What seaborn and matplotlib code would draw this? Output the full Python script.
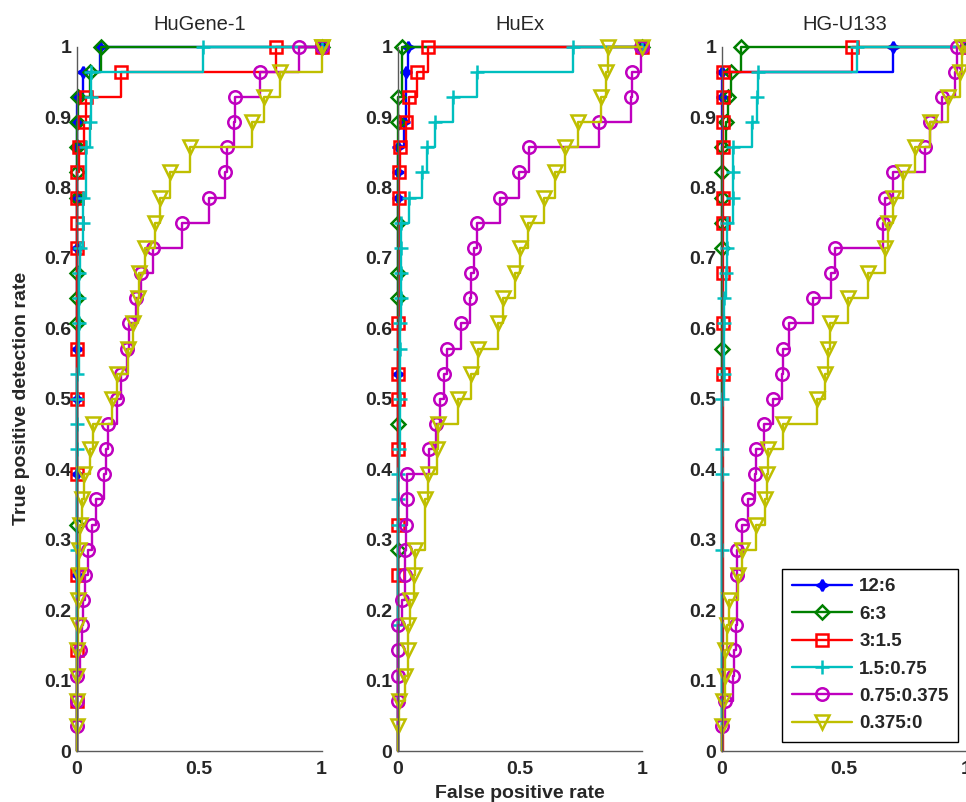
import matplotlib
matplotlib.use("Agg")
import matplotlib.pyplot as plt
import seaborn as sns
import pandas as pd

sns.set_theme(style="white")
plt.rcParams['font.family'] = ['Liberation Sans', 'DejaVu Sans']

# ---------------- data ----------------
panel_titles = ["HuGene-1", "HuEx", "HG-U133"]
series_labels = ["12:6", "6:3", "3:1.5", "1.5:0.75", "0.75:0.375", "0.375:0"]

# ---- HuGene-1 ----
hugene_12_6_tpr = [0, 0.25, 0.3929, 0.5, 0.5714, 0.7143, 0.7857, 0.8571, 0.8929, 0.9286, 0.9643, 1.0, 1.0]
hugene_12_6_fpr = [0, 0, 0, 0, 0, 0, 0, 0, 0, 0, 0.023, 0.095, 1]
hugene_6_3_tpr = [0, 0.3214, 0.6071, 0.6429, 0.6786, 0.7857, 0.8214, 0.8571, 0.8929, 0.9286, 0.9643, 1.0, 1.0]
hugene_6_3_fpr = [0, 0, 0, 0, 0, 0, 0, 0, 0, 0.004, 0.055, 0.097, 1]
hugene_3_1p5_tpr = [0, 0.0714, 0.1429, 0.25, 0.3929, 0.5, 0.5714, 0.7143, 0.75, 0.7857, 0.8214,
                    0.8571, 0.8929, 0.9286, 0.9643, 1.0, 1.0]
hugene_3_1p5_fpr = [0, 0, 0, 0, 0, 0, 0, 0, 0, 0, 0, 0.007, 0.03, 0.035, 0.178, 0.814, 1]
hugene_1p5_0p75_tpr = [0, 0.2857, 0.4286, 0.4643, 0.5, 0.5357, 0.6071, 0.6429, 0.6786, 0.7143, 0.75,
                       0.7857, 0.8571, 0.8929, 0.9286, 0.9643, 1.0, 1.0]
hugene_1p5_0p75_fpr = [0, 0, 0, 0, 0, 0, 0.007, 0.007, 0.01, 0.014, 0.023, 0.023, 0.037, 0.055,
                       0.059, 0.059, 0.515, 1]
hugene_0p75_0p375_tpr = [0, 0.0357, 0.0714, 0.1071, 0.1429, 0.1786, 0.2143, 0.25, 0.2857, 0.3214,
                         0.3571, 0.3929, 0.4286, 0.4643, 0.5, 0.5357, 0.5714, 0.6071, 0.6429,
                         0.6786, 0.7143, 0.75, 0.7857, 0.8214, 0.8571, 0.8929, 0.9286, 0.9643,
                         1.0, 1.0]
hugene_0p75_0p375_fpr = [0, 0, 0, 0, 0.012, 0.019, 0.023, 0.033, 0.046, 0.06, 0.077, 0.11, 0.117,
                         0.125, 0.165, 0.178, 0.205, 0.213, 0.24, 0.26, 0.31, 0.43, 0.54, 0.607,
                         0.612, 0.641, 0.648, 0.75, 0.91, 1]
hugene_0p375_0_tpr = [0, 0.0357, 0.0714, 0.1071, 0.1429, 0.1786, 0.2143, 0.25, 0.2857, 0.3214,
                      0.3571, 0.3929, 0.4286, 0.4643, 0.5, 0.5357, 0.5714, 0.6071, 0.6429,
                      0.6786, 0.7143, 0.75, 0.7857, 0.8214, 0.8571, 0.8929, 0.9286, 0.9643,
                      1.0, 1.0]
hugene_0p375_0_fpr = [0, 0, 0, 0, 0, 0.005, 0.006, 0.008, 0.01, 0.012, 0.022, 0.027, 0.053, 0.067,
                      0.142, 0.165, 0.207, 0.228, 0.25, 0.255, 0.28, 0.32, 0.34, 0.381, 0.463,
                      0.716, 0.764, 0.832, 1.0, 1]

# ---- HuEx ----
huex_12_6_tpr = [0, 0.5357, 0.7857, 0.8214, 0.8571, 0.8929, 0.9643, 1.0, 1.0]
huex_12_6_fpr = [0, 0, 0, 0, 0, 0.025, 0.034, 0.043, 1]
huex_6_3_tpr = [0, 0.2857, 0.4643, 0.6429, 0.6786, 0.75, 0.8929, 0.9286, 1.0, 1.0]
huex_6_3_fpr = [0, 0, 0, 0, 0, 0, 0, 0, 0.016, 1]
huex_3_1p5_tpr = [0, 0.25, 0.3214, 0.4286, 0.5, 0.5357, 0.6071, 0.7857, 0.8214, 0.8571, 0.8929,
                  0.9286, 0.9643, 1.0, 1.0]
huex_3_1p5_fpr = [0, 0, 0, 0, 0, 0, 0, 0.007, 0.007, 0.009, 0.034, 0.047, 0.08, 0.125, 1]
huex_1p5_0p75_tpr = [0, 0.1786, 0.3214, 0.3571, 0.3929, 0.4286, 0.5, 0.5714, 0.6071, 0.6429,
                     0.6786, 0.7143, 0.75, 0.7857, 0.8214, 0.8571, 0.8929, 0.9286, 0.9643,
                     1.0, 1.0]
huex_1p5_0p75_fpr = [0, 0, 0, 0, 0, 0.005, 0.008, 0.01, 0.01, 0.012, 0.012, 0.012, 0.012, 0.045,
                     0.1, 0.118, 0.154, 0.227, 0.325, 0.716, 1]
huex_0p75_0p375_tpr = [0, 0.0714, 0.1071, 0.1429, 0.1786, 0.2143, 0.25, 0.2857, 0.3214, 0.3571,
                       0.3929, 0.4286, 0.4643, 0.5, 0.5357, 0.5714, 0.6071, 0.6429, 0.6786,
                       0.7143, 0.75, 0.7857, 0.8214, 0.8571, 0.8929, 0.9286, 0.9643, 1.0, 1.0]
huex_0p75_0p375_fpr = [0, 0, 0, 0, 0.003, 0.016, 0.028, 0.03, 0.034, 0.037, 0.039, 0.129, 0.156,
                       0.175, 0.189, 0.2, 0.258, 0.295, 0.301, 0.311, 0.326, 0.417, 0.496, 0.535,
                       0.825, 0.956, 0.96, 0.995, 1]
huex_0p375_0_tpr = [0, 0.0357, 0.0714, 0.1071, 0.1429, 0.1786, 0.2143, 0.25, 0.2857, 0.3571,
                    0.3929, 0.4286, 0.4643, 0.5, 0.5357, 0.5714, 0.6071, 0.6429, 0.6786, 0.7143,
                    0.75, 0.7857, 0.8214, 0.8571, 0.8929, 0.9286, 0.9643, 1.0, 1.0]
huex_0p375_0_fpr = [0, 0, 0.007, 0.03, 0.043, 0.043, 0.05, 0.068, 0.07, 0.111, 0.125, 0.159,
                    0.166, 0.247, 0.301, 0.329, 0.41, 0.43, 0.478, 0.499, 0.532, 0.6, 0.644,
                    0.686, 0.736, 0.831, 0.852, 0.859, 1]

# ---- HG-U133 ----
hgu133_12_6_tpr = [0, 0.9286, 0.9643, 1.0, 1.0]
hgu133_12_6_fpr = [0, 0, 0, 0.70, 1]
hgu133_6_3_tpr = [0, 0.5714, 0.7143, 0.75, 0.7857, 0.8214, 0.8571, 0.8929, 0.9286, 0.9643, 1.0, 1.0]
hgu133_6_3_fpr = [0, 0, 0, 0, 0, 0, 0, 0.018, 0.026, 0.035, 0.077, 1]
hgu133_3_1p5_tpr = [0, 0.5357, 0.6071, 0.6786, 0.75, 0.7857, 0.8571, 0.8929, 0.9286, 0.9643, 1.0, 1.0]
hgu133_3_1p5_fpr = [0, 0.005, 0.005, 0.005, 0.005, 0.005, 0.005, 0.005, 0.005, 0.005, 0.53, 1]
hgu133_1p5_0p75_tpr = [0, 0.2857, 0.3929, 0.4286, 0.5, 0.5357, 0.6071, 0.6429, 0.6786, 0.7143,
                       0.75, 0.7857, 0.8214, 0.8571, 0.8929, 0.9286, 0.9643, 1.0, 1.0]
hgu133_1p5_0p75_fpr = [0, 0, 0, 0, 0, 0.008, 0.008, 0.01, 0.015, 0.02, 0.02, 0.045, 0.045, 0.045,
                       0.121, 0.142, 0.149, 0.551, 1]
hgu133_0p75_0p375_tpr = [0, 0.0357, 0.0714, 0.1071, 0.1429, 0.1786, 0.25, 0.2857, 0.3214, 0.3571,
                         0.3929, 0.4286, 0.4643, 0.5, 0.5357, 0.5714, 0.6071, 0.6429, 0.6786,
                         0.7143, 0.75, 0.7857, 0.8214, 0.8571, 0.8929, 0.9286, 0.9643, 1.0, 1.0]
hgu133_0p75_0p375_fpr = [0, 0, 0.012, 0.046, 0.049, 0.057, 0.06, 0.06, 0.08, 0.108, 0.135, 0.139,
                         0.172, 0.21, 0.244, 0.248, 0.275, 0.373, 0.445, 0.462, 0.657, 0.667,
                         0.7, 0.83, 0.851, 0.899, 0.953, 0.96, 1]
hgu133_0p375_0_tpr = [0, 0.0357, 0.0714, 0.1071, 0.1429, 0.1786, 0.2143, 0.25, 0.2857, 0.3214,
                      0.3571, 0.3929, 0.4286, 0.4643, 0.5, 0.5357, 0.5714, 0.6071, 0.6429,
                      0.6786, 0.7143, 0.75, 0.7857, 0.8214, 0.8571, 0.8929, 0.9286, 0.9643,
                      1.0, 1.0]
hgu133_0p375_0_fpr = [0, 0, 0.005, 0.012, 0.012, 0.022, 0.03, 0.067, 0.08, 0.139, 0.176, 0.183,
                      0.189, 0.251, 0.387, 0.421, 0.435, 0.442, 0.517, 0.598, 0.667, 0.68, 0.7,
                      0.742, 0.79, 0.851, 0.925, 0.973, 0.98, 1]

panel_series = [
    [(hugene_12_6_fpr, hugene_12_6_tpr), (hugene_6_3_fpr, hugene_6_3_tpr),
     (hugene_3_1p5_fpr, hugene_3_1p5_tpr), (hugene_1p5_0p75_fpr, hugene_1p5_0p75_tpr),
     (hugene_0p75_0p375_fpr, hugene_0p75_0p375_tpr), (hugene_0p375_0_fpr, hugene_0p375_0_tpr)],
    [(huex_12_6_fpr, huex_12_6_tpr), (huex_6_3_fpr, huex_6_3_tpr),
     (huex_3_1p5_fpr, huex_3_1p5_tpr), (huex_1p5_0p75_fpr, huex_1p5_0p75_tpr),
     (huex_0p75_0p375_fpr, huex_0p75_0p375_tpr), (huex_0p375_0_fpr, huex_0p375_0_tpr)],
    [(hgu133_12_6_fpr, hgu133_12_6_tpr), (hgu133_6_3_fpr, hgu133_6_3_tpr),
     (hgu133_3_1p5_fpr, hgu133_3_1p5_tpr), (hgu133_1p5_0p75_fpr, hgu133_1p5_0p75_tpr),
     (hgu133_0p75_0p375_fpr, hgu133_0p75_0p375_tpr), (hgu133_0p375_0_fpr, hgu133_0p375_0_tpr)],
]

x_ticks = [0, 0.5, 1]
x_tick_labels = ["0", "0.5", "1"]
y_ticks = [0, 0.1, 0.2, 0.3, 0.4, 0.5, 0.6, 0.7, 0.8, 0.9, 1]
y_tick_labels = ["0", "0.1", "0.2", "0.3", "0.4", "0.5", "0.6", "0.7", "0.8", "0.9", "1"]

# ---------------- style ----------------
colors = ["#0000ff", "#008000", "#ff0000", "#00bfbf", "#bf00bf", "#bfbf00"]
markers = [(4, 1, 0), "D", "s", "+", "o", "v"]
msizes = [8, 7.5, 8.5, 9.5, 9, 10.5]
filled = [True, False, False, False, False, False]

W, H = 966, 802
fig = plt.figure(figsize=(W / 100, H / 100), dpi=100)
bottom = 1 - 751 / H
height = (751 - 46.7) / H
lefts = [77, 397.7, 722]
width = 244.5 / W

spine_col = "#5a5a5a"
axes = []
for p in range(3):
    ax = fig.add_axes([lefts[p] / W, bottom, width, height])
    axes.append(ax)
    for s, ((fpr, tpr), lab) in enumerate(zip(panel_series[p], series_labels)):
        df = pd.DataFrame({"fpr": fpr, "tpr": tpr})
        sns.lineplot(data=df, x="fpr", y="tpr", ax=ax, estimator=None, sort=False,
                     color=colors[s], linewidth=1.7, drawstyle="steps-post",
                     marker=markers[s], markersize=msizes[s],
                     markeredgecolor=colors[s],
                     markerfacecolor=(colors[s] if filled[s] else "none"),
                     markeredgewidth=1.8, markevery=slice(1, None),
                     clip_on=False, label=lab, legend=False)
    ax.set_xlim(0, 1)
    ax.set_ylim(0, 1)
    ax.set_xticks(x_ticks)
    ax.set_xticklabels(x_tick_labels, fontsize=14, fontweight="bold")
    ax.set_yticks(y_ticks)
    ax.set_yticklabels(y_tick_labels, fontsize=14, fontweight="bold")
    ax.tick_params(direction="in", length=4, width=0.8, color=spine_col, pad=4)
    ax.tick_params(axis="x", pad=7)
    for side in ["top", "right"]:
        ax.spines[side].set_visible(False)
    for side in ["left", "bottom"]:
        ax.spines[side].set_color(spine_col)
        ax.spines[side].set_linewidth(1.0)
    ax.set_title(panel_titles[p], fontsize=14.5, pad=12)
    ax.set_xlabel("")
    ax.set_ylabel("")
    ax.set_facecolor("white")

axes[0].set_ylabel("True positive detection rate", fontsize=14, fontweight="bold", labelpad=10)
axes[1].set_xlabel("False positive rate", fontsize=14, fontweight="bold", labelpad=5)

handles = [plt.Line2D([], [], color=colors[s], linewidth=1.7, marker=markers[s],
                      markersize=msizes[s], markeredgecolor=colors[s],
                      markerfacecolor=(colors[s] if filled[s] else "none"),
                      markeredgewidth=1.8) for s in range(6)]
leg = axes[2].legend(handles, series_labels, loc="lower right",
                     bbox_to_anchor=(0.965, 0.013), borderaxespad=0, frameon=True,
                     fancybox=False, framealpha=1, edgecolor="black", handlelength=3.2,
                     labelspacing=0.55, borderpad=0.5, handletextpad=0.4,
                     prop={"size": 13.5, "weight": "bold"})
leg.get_frame().set_linewidth(1.0)

fig.savefig("out.png", dpi=100, facecolor="white")
